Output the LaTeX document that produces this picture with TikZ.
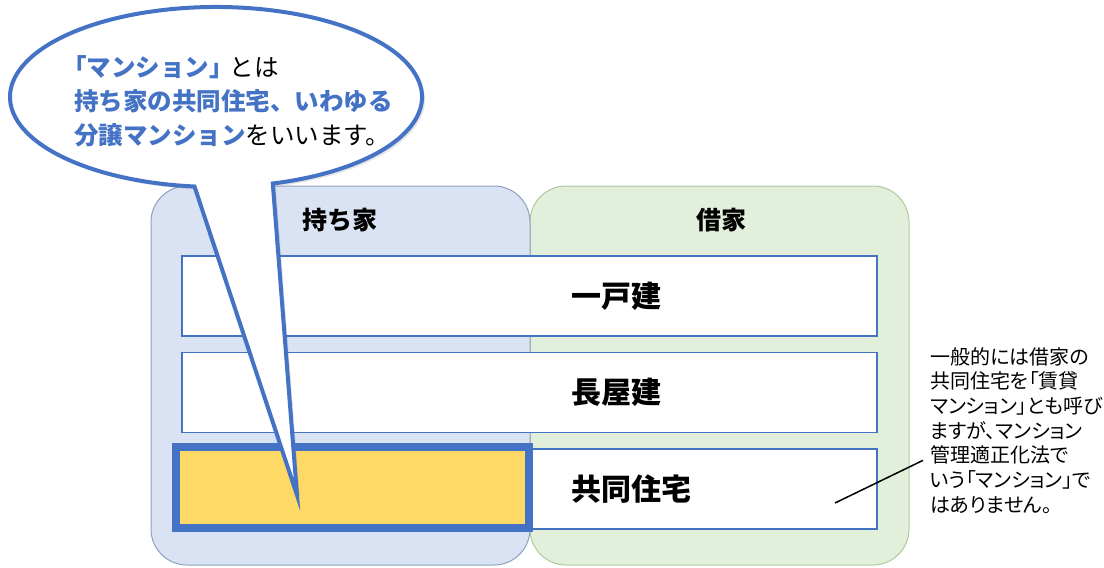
\documentclass[tikz,border=0pt]{standalone}
\usepackage{fontspec}
\setmainfont{Noto Sans CJK JP}
\newfontfamily\notefont{Noto Sans CJK JP}[RawFeature=+palt]
\usetikzlibrary{matrix,positioning,shadows}

\definecolor{accent}{HTML}{4472C4}
\definecolor{ownfill}{HTML}{DAE3F3}
\definecolor{ownline}{HTML}{8EA0C0}
\definecolor{rentfill}{HTML}{E2EFDA}
\definecolor{rentline}{HTML}{AFC99F}
\definecolor{hilite}{HTML}{FFD966}

\tikzset{
  group/.style={draw, line width=1pt, rounded corners=36pt,
    minimum width=379pt, minimum height=379pt, inner sep=0pt},
  rowbox/.style={draw=accent, line width=1.5pt, fill=white,
    minimum width=695pt, minimum height=80pt, inner sep=0pt},
  rowtxt/.style={inner sep=0pt, font=\fontsize{30}{30}\selectfont\bfseries},
  head/.style={inner sep=0pt, font=\fontsize{25}{25}\selectfont\bfseries},
  mine/.style={draw=accent, line width=8pt, fill=hilite,
    minimum width=353pt, minimum height=81pt, inner sep=0pt},
  bubble/.style={draw=accent, line width=4pt, fill=white,
    drop shadow={shadow xshift=3pt, shadow yshift=-3pt, opacity=.2}},
  said/.style={inner sep=0pt, align=left, font=\fontsize{24.5}{34}\selectfont},
  note/.style={inner sep=0pt, align=left, font=\notefont\fontsize{20}{24.7}\selectfont},
  leader/.style={line width=1.5pt}
}

\begin{document}
\begin{tikzpicture}[x=1pt, y=1pt]
  \useasboundingbox (0,0) rectangle (1104,-568);

  % two groups
  \node[group, draw=rentline, fill=rentfill] (rent) at (719.5,-375.5) {};
  \node[group, draw=ownline, fill=ownfill] (own) at (340.5,-375.5) {};
  \node[head] (ownlbl) at (340,-220) {持ち家};
  \node[head] (rentlbl) at (721,-220) {借家};

  % kinds of house
  \matrix (m) [matrix of nodes, nodes in empty cells, row sep=15pt,
    nodes={rowbox}, inner sep=0pt] at (529.5,-392.5) {
    \\
    \\
    \\};
  \node[mine] (hl) at (352.5,-487.5) {};
  \node[rowtxt, right=390pt of m-1-1.west] (t1) {一戸建};
  \node[rowtxt, right=390pt of m-2-1.west] (t2) {長屋建};
  \node[rowtxt, right=390pt of m-3-1.west] (t3) {共同住宅};

  % speech bubble
  \path[bubble] (272.8,-183.5)
    arc[start angle=-74, end angle=264, x radius=206, y radius=90]
    -- (297,-495) -- cycle;
  \node[said, anchor=north west] (talk) at (74,-55) {%
    \hspace*{-12pt}{\color{accent}\bfseries 「マンション」}\hspace{-4pt}とは\\
    {\color{accent}\bfseries 持ち家の共同住宅、いわゆる}\\
    {\color{accent}\bfseries 分譲マンション}をいいます。};

  % side note
  \node[note, anchor=north west] (aside) at (930,-347) {%
    一般的には借家の\\
    共同住宅を「賃貸\\
    マンション」とも呼び\\
    ますが、マンション\\
    管理適正化法で\\
    いう「マンション」で\\
    はありません。};
  \coordinate (pin) at (835,-503);
  \draw[leader] (pin) -- ([xshift=-7pt,yshift=-30pt]aside.west);
\end{tikzpicture}
\end{document}
